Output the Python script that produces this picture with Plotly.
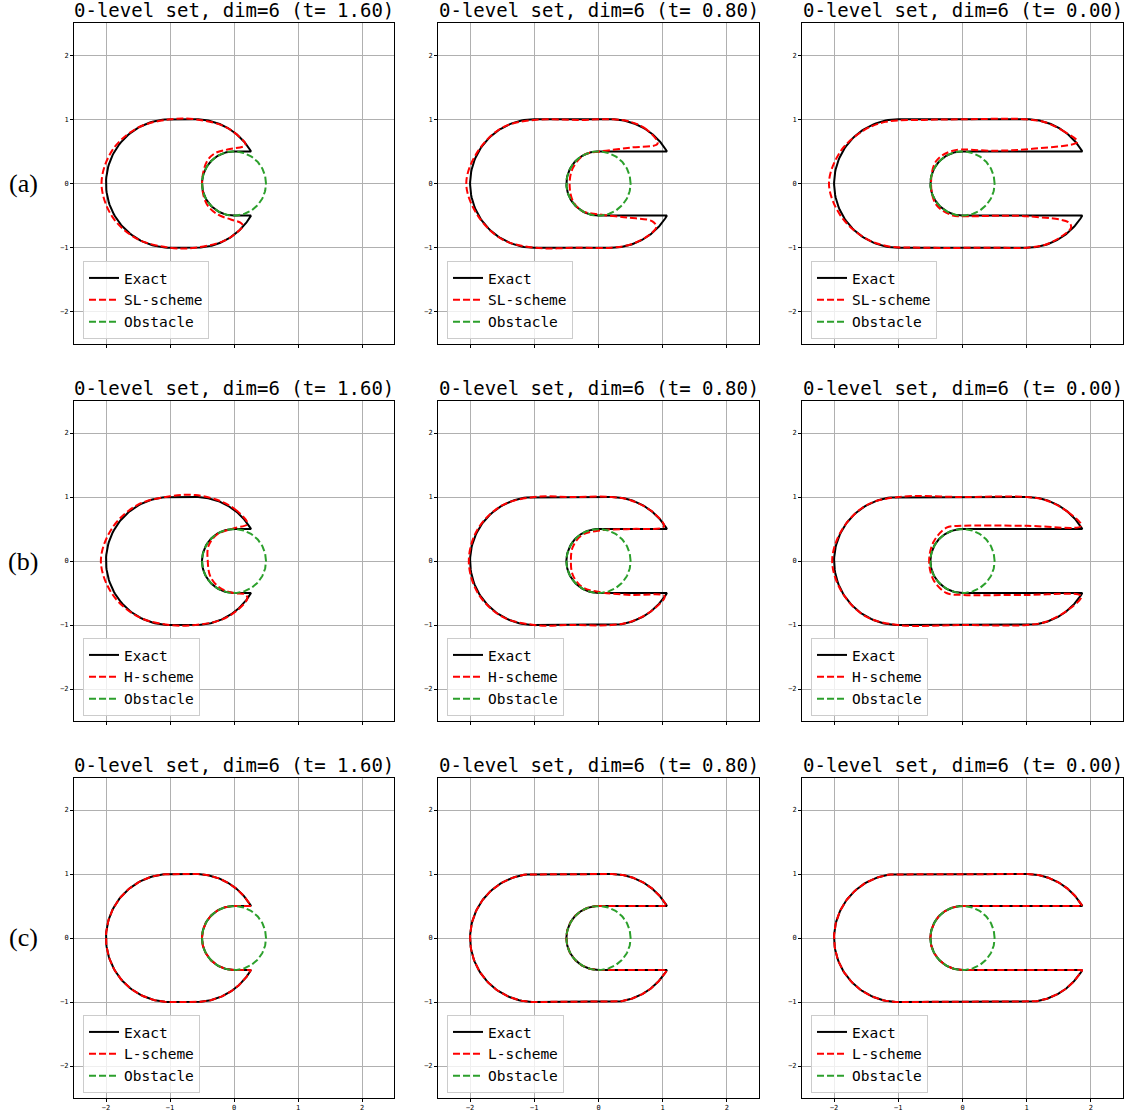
import numpy as np
import plotly.graph_objects as go
from plotly.subplots import make_subplots

# ---------------- data ----------------
T_VALUES = [1.60, 0.80, 0.00]
SCHEMES = ["SL-scheme", "H-scheme", "L-scheme"]
ROW_LABELS = ["(a)", "(b)", "(c)"]
TICK_VALS = [-2, -1, 0, 1, 2]
TICK_TEXT = ["\u22122", "\u22121", "0", "1", "2"]

# exact level-set geometry (stadium minus obstacle and its slot)
LEFT_CENTER_X = -1.0
CAP_RADIUS = 1.0
RIGHT_CENTER_X = [-0.6, 0.2, 1.0]   # right cap centre for t = 1.6, 0.8, 0.0
SLOT_HALF_WIDTH = 0.5
OBSTACLE_CENTER = [0.0, 0.0]
OBSTACLE_RADIUS = 0.5

# SL-scheme zero level sets
SL_X_T160 = [0.18, 0.08, -0.15, -0.6, -1.0, -1.5, -1.9, -2.07, -1.9, -1.5, -1.0, -0.6, -0.15, 0.06, 0.14,
             0.10, -0.05, -0.26, -0.42, -0.49, -0.49, -0.42, -0.30, -0.10, 0.18]
SL_Y_T160 = [0.60, 0.73, 0.89, 1.0, 1.0, 0.87, 0.52, 0.0, -0.52, -0.87, -1.0, -1.0, -0.89, -0.75, -0.66,
             -0.61, -0.56, -0.48, -0.33, -0.12, 0.12, 0.35, 0.47, 0.53, 0.60]
SL_X_T080 = [0.92, 0.75, 0.5, 0.2, -0.3, -1.0, -1.5, -1.88, -2.06, -1.88, -1.5, -1.0, -0.3, 0.2, 0.5, 0.75,
             0.90, 0.84, 0.45, 0.0, -0.25, -0.40, -0.45, -0.40, -0.22, 0.04, 0.5, 0.92]
SL_Y_T080 = [0.62, 0.84, 0.96, 1.0, 0.99, 0.99, 0.87, 0.5, 0.0, -0.5, -0.87, -1.0, -1.0, -1.0, -0.95, -0.83,
             -0.68, -0.59, -0.53, -0.48, -0.43, -0.27, 0.0, 0.24, 0.45, 0.50, 0.56, 0.62]
SL_X_T000 = [1.79, 1.6, 1.3, 1.0, 0.0, -0.6, -1.2, -1.55, -1.9, -2.08, -1.9, -1.55, -1.2, -0.6, 0.5, 1.0,
             1.3, 1.55, 1.69, 1.66, 1.0, 0.0, -0.15, -0.41, -0.49, -0.41, -0.15, 0.5, 1.09, 1.79]
SL_Y_T000 = [0.65, 0.80, 0.95, 1.0, 1.0, 0.99, 0.96, 0.82, 0.5, 0.0, -0.5, -0.83, -0.97, -1.0, -1.0, -1.0,
             -0.95, -0.82, -0.69, -0.61, -0.51, -0.51, -0.5, -0.33, 0.0, 0.35, 0.51, 0.51, 0.54, 0.65]

# H-scheme zero level sets
H_X_T160 = [0.21, 0.05, -0.2, -0.6, -1.0, -1.5, -1.9, -2.08, -1.9, -1.5, -1.0, -0.6, -0.2, 0.05, 0.21,
            0.17, -0.01, -0.22, -0.37, -0.41, -0.40, -0.27, -0.01, 0.21]
H_Y_T160 = [0.58, 0.78, 0.93, 1.03, 1.01, 0.88, 0.52, 0.0, -0.52, -0.87, -1.0, -1.0, -0.92, -0.77, -0.58,
            -0.52, -0.50, -0.42, -0.24, 0.0, 0.23, 0.41, 0.51, 0.58]
H_X_T080 = [1.02, 0.85, 0.5, 0.2, -0.4, -1.0, -1.5, -1.88, -2.02, -1.88, -1.5, -1.0, -0.4, 0.2, 0.5, 0.85,
            1.03, 0.5, 0.05, -0.25, -0.40, -0.43, -0.40, -0.25, 0.05, 0.5, 1.02]
H_Y_T080 = [0.54, 0.76, 0.95, 1.0, 1.0, 1.0, 0.87, 0.5, 0.0, -0.5, -0.87, -1.0, -1.0, -1.0, -0.95, -0.76,
            -0.55, -0.53, -0.49, -0.41, -0.22, 0.0, 0.22, 0.41, 0.48, 0.50, 0.54]
H_X_T000 = [1.85, 1.65, 1.3, 1.0, 0.0, -1.0, -1.5, -1.87, -2.03, -1.87, -1.5, -1.0, 0.0, 1.0, 1.3, 1.65,
            1.85, 1.0, 0.0, -0.25, -0.45, -0.52, -0.45, -0.25, 0.0, 1.0, 1.85]
H_Y_T000 = [0.55, 0.76, 0.95, 1.0, 1.0, 1.0, 0.87, 0.5, 0.0, -0.5, -0.87, -1.0, -1.0, -1.0, -0.95, -0.76,
            -0.55, -0.53, -0.53, -0.50, -0.30, 0.0, 0.30, 0.52, 0.55, 0.55, 0.55]

SCHEME_X = [[SL_X_T160, SL_X_T080, SL_X_T000], [H_X_T160, H_X_T080, H_X_T000], None]
SCHEME_Y = [[SL_Y_T160, SL_Y_T080, SL_Y_T000], [H_Y_T160, H_Y_T080, H_Y_T000], None]


# ---------------- geometry helpers ----------------
def arc(cx, cy, r, a0, a1, n=80):
    a = np.radians(np.linspace(a0, a1, n))
    return list(cx + r * np.cos(a)), list(cy + r * np.sin(a))


def exact_path(c):
    h = SLOT_HALF_WIDTH
    ang = np.degrees(np.arcsin(h / CAP_RADIUS))
    xtip = c + CAP_RADIUS * np.cos(np.radians(ang))
    parts = [
        ([OBSTACLE_CENTER[0], xtip], [h, h]),
        arc(c, 0, CAP_RADIUS, ang, 90),
        ([c, LEFT_CENTER_X], [CAP_RADIUS, CAP_RADIUS]),
        arc(LEFT_CENTER_X, 0, CAP_RADIUS, 90, 270),
        ([LEFT_CENTER_X, c], [-CAP_RADIUS, -CAP_RADIUS]),
        arc(c, 0, CAP_RADIUS, 270, 360 - ang),
        ([xtip, OBSTACLE_CENTER[0]], [-h, -h]),
        arc(OBSTACLE_CENTER[0], OBSTACLE_CENTER[1], OBSTACLE_RADIUS, 270, 90),
    ]
    xs, ys = [], []
    for px, py in parts:
        xs += list(px)
        ys += list(py)
    return xs, ys


# ---------------- layout geometry ----------------
W, H = 1128, 1118
COLS_PX = [(74, 394), (438, 759), (802, 1123)]
ROWS_PX = [(23, 344), (401, 721), (778, 1098)]

MONO = "DejaVu Sans Mono"

fig = make_subplots(rows=3, cols=3)

ox, oy = arc(OBSTACLE_CENTER[0], OBSTACLE_CENTER[1], OBSTACLE_RADIUS, 0, 360, 200)

annotations = []
for r in range(3):
    for c in range(3):
        k = r * 3 + c + 1
        leg = "legend" if k == 1 else f"legend{k}"
        ex, ey = exact_path(RIGHT_CENTER_X[c])
        fig.add_trace(go.Scatter(x=ex, y=ey, mode="lines", name="Exact",
                                 line=dict(color="black", width=2),
                                 legend=leg), row=r + 1, col=c + 1)
        if SCHEME_X[r] is None:
            sx, sy = ex, ey
            shape = "linear"
        else:
            sx, sy = SCHEME_X[r][c], SCHEME_Y[r][c]
            shape = "spline"
        fig.add_trace(go.Scatter(x=sx, y=sy, mode="lines", name=SCHEMES[r],
                                 line=dict(color="#ff0000", width=2, dash="7px,3px",
                                           shape=shape, smoothing=1.0),
                                 legend=leg), row=r + 1, col=c + 1)
        fig.add_trace(go.Scatter(x=ox, y=oy, mode="lines", name="Obstacle",
                                 line=dict(color="#2ca02c", width=2, dash="7px,3px"),
                                 legend=leg), row=r + 1, col=c + 1)

        l, rr = COLS_PX[c]
        t, b = ROWS_PX[r]
        xa = "xaxis" if k == 1 else f"xaxis{k}"
        ya = "yaxis" if k == 1 else f"yaxis{k}"
        fig.layout[xa].update(domain=[l / W, rr / W])
        fig.layout[ya].update(domain=[1 - b / H, 1 - t / H])
        fig.layout[xa].update(showticklabels=(r == 2))

        fig.layout[leg] = dict(
            x=(l + 9) / W, y=1 - (b - 5) / H, xanchor="left", yanchor="bottom",
            xref="paper", yref="paper",
            bgcolor="rgba(255,255,255,0.8)", bordercolor="#cccccc", borderwidth=1,
            font=dict(family=MONO, size=14.5, color="black"),
            itemwidth=30, tracegroupgap=0,
        )
        annotations.append(dict(
            text=f"0-level set, dim=6 (t= {T_VALUES[c]:.2f})",
            x=(l + rr) / 2 / W, y=1 - (t - 13) / H, xref="paper", yref="paper",
            xanchor="center", yanchor="middle", showarrow=False,
            font=dict(family=MONO, size=19, color="black"),
        ))
    annotations.append(dict(
        text=ROW_LABELS[r], x=23 / W, y=1 - ((ROWS_PX[r][0] + ROWS_PX[r][1]) / 2) / H,
        xref="paper", yref="paper", xanchor="center", yanchor="middle", showarrow=False,
        font=dict(family="Liberation Serif", size=26, color="black"),
    ))

axis_common = dict(
    range=[-2.5, 2.5], tickmode="array", tickvals=TICK_VALS, ticktext=TICK_TEXT,
    showgrid=True, gridcolor="#b0b0b0", gridwidth=1, zeroline=False,
    showline=True, mirror=True, linecolor="black", linewidth=1,
    ticks="outside", ticklen=3, tickwidth=1, tickcolor="black",
    tickfont=dict(family=MONO, size=7, color="black"),
)
fig.update_xaxes(**axis_common)
fig.update_yaxes(**axis_common)

fig.update_layout(
    width=W, height=H, margin=dict(l=0, r=0, t=0, b=0),
    plot_bgcolor="white", paper_bgcolor="white",
    annotations=annotations, showlegend=True,
)

fig.write_html(
    "out.html",
    config={"displayModeBar": False},
    post_script="document.body.style.margin='0';document.body.style.overflow='hidden';",
)
